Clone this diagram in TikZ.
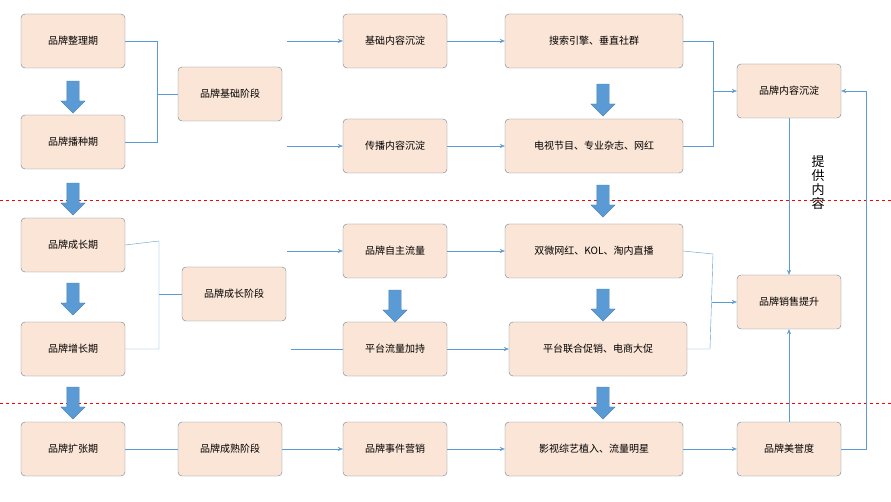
\documentclass[tikz,border=0pt]{standalone}
\usepackage{fontspec}
\newfontfamily\cjk{Noto Sans CJK SC}
\usetikzlibrary{shapes.arrows,arrows.meta}
\definecolor{boxfill}{HTML}{FBE5D6}
\definecolor{boxline}{HTML}{6F7F8F}
\definecolor{linkblue}{HTML}{5B9BD5}
\definecolor{fatblue}{HTML}{5B9BD5}
\begin{document}
\begin{tikzpicture}[x=1pt,y=-1pt,
  stage/.style={draw=boxline, fill=boxfill, rounded corners=4pt, minimum height=54pt, font=\cjk\fontsize{10}{12}\selectfont, inner sep=1pt},
  link/.style={draw=linkblue, thin},
  flow/.style={link, -{Stealth[length=5pt,width=4pt]}},
  fat/.style={single arrow, draw=fatblue!80!black, fill=fatblue, rotate=-90, minimum height=32pt, inner sep=6pt, single arrow head extend=6pt, single arrow head indent=0pt, line width=0.3pt}]
\useasboundingbox (0,0) rectangle (891,502);
% dashed separators
\draw[red, dashed] (0,200) -- (891,200);
\draw[red, dashed] (0,403) -- (891,403);
% periods
\node[stage, minimum width=104pt] (zl) at (73,41) {品牌整理期};
\node[stage, minimum width=104pt] (bz) at (73,142) {品牌播种期};
\node[stage, minimum width=104pt] (cz) at (73,245) {品牌成长期};
\node[stage, minimum width=104pt] (zz) at (73,349) {品牌增长期};
\node[stage, minimum width=104pt] (kz) at (73,449) {品牌扩张期};
% stages
\node[stage, minimum width=104pt] (jc) at (230,94) {品牌基础阶段};
\node[stage, minimum width=104pt] (cs) at (234,294) {品牌成长阶段};
\node[stage, minimum width=104pt] (cs2) at (230,449) {品牌成熟阶段};
% content
\node[stage, minimum width=104pt] (jcnr) at (395,41) {基础内容沉淀};
\node[stage, minimum width=104pt] (cbnr) at (395,146) {传播内容沉淀};
\node[stage, minimum width=104pt] (zzll) at (395,251) {品牌自主流量};
\node[stage, minimum width=104pt] (ptll) at (395,349) {平台流量加持};
\node[stage, minimum width=104pt] (sjyx) at (395,449) {品牌事件营销};
% channels
\node[stage, minimum width=178pt] (ss) at (594,41) {搜索引擎、垂直社群};
\node[stage, minimum width=178pt] (ds) at (594,146) {电视节目、专业杂志、网红};
\node[stage, minimum width=178pt] (sw) at (594,251) {双微网红、KOL、淘内直播};
\node[stage, minimum width=178pt] (lh) at (598,349) {平台联合促销、电商大促};
\node[stage, minimum width=178pt] (ys) at (594,449) {影视综艺植入、流量明星};
% results
\node[stage, minimum width=104pt] (nrcd) at (789,91) {品牌内容沉淀};
\node[stage, minimum width=104pt] (xs) at (789,302) {品牌销售提升};
\node[stage, minimum width=104pt] (my) at (789,449) {品牌美誉度};
% fat arrows
\node[fat] (f1) at (73,94) {};
\node[fat] (f2) at (73,196) {};
\node[fat] (f3) at (73,296) {};
\node[fat] (f4) at (73,400) {};
\node[fat] (f5) at (603,97) {};
\node[fat] (f6) at (603,198) {};
\node[fat] (f7) at (603,302) {};
\node[fat] (f8) at (603,400) {};
\node[fat] (f9) at (395,303) {};
% brackets
\draw[link] (zl.east) -- (157,41) -- (157,142) -- (bz.east);
\draw[link] (157,94) -- (jc.west);
\draw[link] (cz.east) -- (159,241) -- (159,349) -- (zz.east);
\draw[link] (159,294) -- (cs.west);
\draw[link] (kz.east) -- (cs2.west);
\coordinate (a1) at (287,41);
\coordinate (a2) at (287,146);
\coordinate (a3) at (287,251);
\coordinate (a4) at (291,349);
\draw[flow] (a1) -- (jcnr.west);
\draw[flow] (a2) -- (cbnr.west);
\draw[flow] (a3) -- (zzll.west);
\draw[link] (a4) -- (ptll.west);
\draw[flow] (cs2.east) -- (sjyx.west);
\draw[flow] (jcnr.east) -- (ss.west);
\draw[flow] (cbnr.east) -- (ds.west);
\draw[flow] (zzll.east) -- (sw.west);
\draw[flow] (ptll.east) -- (lh.west);
\draw[flow] (sjyx.east) -- (ys.west);
\draw[link] (ss.east) -- (713,41) -- (713,146) -- (ds.east);
\draw[flow] (713,91) -- (nrcd.west);
\draw[link] (sw.east) -- (713,254) -- (710,349) -- (lh.east);
\draw[flow] (712,302) -- (xs.west);
\draw[flow] (ys.east) -- (my.west);
\draw[flow] (nrcd.south) -- (xs.north);
\draw[flow] (my.north) -- (xs.south);
\draw[flow] (my.east) -- (866,449) -- (866,91) -- (nrcd.east);
\node[font=\cjk\fontsize{13}{14}\selectfont, align=center, inner sep=0pt] (tg) at (818,183) {提\\供\\内\\容};
\end{tikzpicture}
\end{document}
